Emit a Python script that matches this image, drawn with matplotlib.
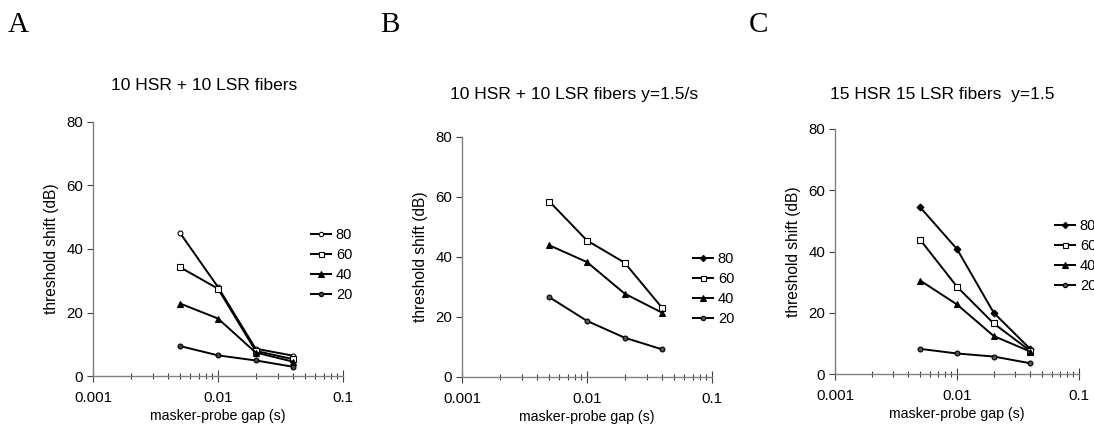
import numpy as np
import matplotlib
matplotlib.use("Agg")
import matplotlib.pyplot as plt
from matplotlib.ticker import LogLocator, FixedLocator, NullFormatter

plt.rcParams['font.family'] = ['Liberation Sans', 'DejaVu Sans']

gaps = [0.005, 0.01, 0.02, 0.04]
levels = ['80', '60', '40', '20']

# Panel A: 10 HSR + 10 LSR fibers
a_80 = [44.9, 28.0, 8.6, 6.4]
a_60 = [34.2, 27.5, 7.9, 5.3]
a_40 = [22.8, 18.1, 7.4, 4.5]
a_20 = [9.4, 6.5, 4.9, 2.9]

# Panel B: 10 HSR + 10 LSR fibers y=1.5/s  (80 dB series not drawn in the original)
b_80 = [np.nan, np.nan, np.nan, np.nan]
b_60 = [58.5, 45.5, 38.1, 23.0]
b_40 = [43.9, 38.3, 27.8, 21.4]
b_20 = [26.6, 18.7, 13.1, 9.2]

# Panel C: 15 HSR 15 LSR fibers y=1.5
c_80 = [54.4, 40.8, 20.0, 8.1]
c_60 = [43.8, 28.5, 16.5, 7.5]
c_40 = [30.5, 22.7, 12.4, 7.3]
c_20 = [8.2, 6.7, 5.7, 3.5]

titles = ['10 HSR + 10 LSR fibers', '10 HSR + 10 LSR fibers y=1.5/s', '15 HSR 15 LSR fibers  y=1.5']
letters = ['A', 'B', 'C']

fig = plt.figure(figsize=(10.94, 4.25), dpi=100)
W, H = 1094, 425

def px_axes(l, r, t, b):
    return fig.add_axes([l / W, 1 - b / H, (r - l) / W, (b - t) / H])

axes_px = [(93, 343, 122, 376), (462, 712, 137, 377), (835, 1079, 129, 374)]
title_px = [(204, 85), (574, 94), (942, 95)]
letter_px = [(8, 25), (380, 25), (749, 25)]
legend_px = [(311, 228), (693, 252), (1055, 219)]

styles_A = [dict(marker='o', mfc='white', ms=3.5), dict(marker='s', mfc='white', ms=4),
            dict(marker='^', mfc='black', ms=5), dict(marker='o', mfc='#444444', ms=3.5)]
styles_BC = [dict(marker='D', mfc='black', ms=3.5), dict(marker='s', mfc='white', ms=4),
             dict(marker='^', mfc='black', ms=5), dict(marker='o', mfc='#555555', ms=3.5)]

data = [[a_80, a_60, a_40, a_20], [b_80, b_60, b_40, b_20], [c_80, c_60, c_40, c_20]]
styles = [styles_A, styles_BC, styles_BC]

for i in range(3):
    ax = px_axes(*axes_px[i])
    for vals, lab, st in zip(data[i], levels, styles[i]):
        ax.plot(gaps, vals, color='black', lw=1.4, mec='black', mew=0.8, label=lab, **st)
    ax.set_xscale('log')
    ax.set_xlim(0.001, 0.1)
    ax.set_ylim(0, 80)
    ax.set_yticks([0, 20, 40, 60, 80])
    ax.xaxis.set_major_locator(FixedLocator([0.001, 0.01, 0.1]))
    ax.set_xticklabels(['0.001', '0.01', '0.1'])
    ax.xaxis.set_minor_locator(LogLocator(base=10, subs=np.arange(2, 10)))
    ax.xaxis.set_minor_formatter(NullFormatter())
    for s in ['top', 'right']:
        ax.spines[s].set_visible(False)
    for s in ['left', 'bottom']:
        ax.spines[s].set_color('#808080')
        ax.spines[s].set_linewidth(1.0)
    ax.tick_params(axis='y', direction='out', length=4, width=0.8, color='#404040',
                   labelsize=10.8, pad=3)
    ax.tick_params(axis='x', which='major', direction='inout', length=8, width=0.8,
                   color='#404040', labelsize=10.8, pad=7)
    ax.tick_params(axis='x', which='minor', direction='inout', length=5, width=0.8,
                   color='#404040')
    ax.set_xlabel('masker-probe gap (s)', fontsize=10.2, labelpad=3)
    ax.set_ylabel('threshold shift (dB)', fontsize=11.2, labelpad=5)
    tx, ty = title_px[i]
    fig.text(tx / W, 1 - ty / H, titles[i], ha='center', va='center', fontsize=12.5)
    lx, ly = letter_px[i]
    fig.text(lx / W, 1 - ly / H, letters[i], ha='left', va='center', fontsize=21,
             family=['Liberation Serif', 'DejaVu Serif'])
    gx, gy = legend_px[i]
    ax.legend(loc='upper left', bbox_to_anchor=(gx / W, 1 - gy / H),
              bbox_transform=fig.transFigure, frameon=False, fontsize=10.5,
              handlelength=1.4, handletextpad=0.3, labelspacing=0.42,
              borderpad=0, borderaxespad=0, markerscale=0.9)

fig.savefig('out.png', dpi=100)
